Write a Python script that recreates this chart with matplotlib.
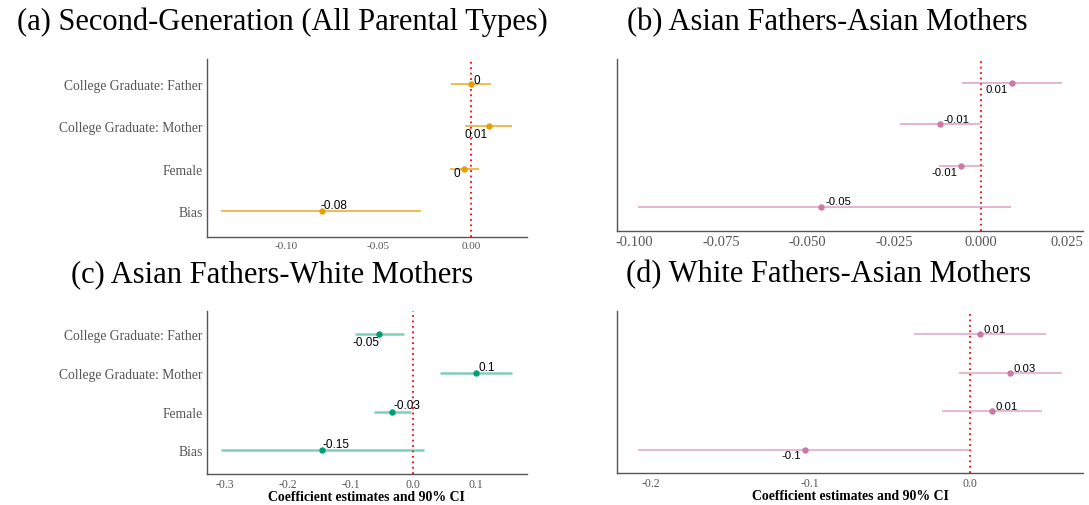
import matplotlib
matplotlib.use("Agg")
import matplotlib.pyplot as plt

plt.rcParams['axes.unicode_minus'] = False

W, H = 1089, 506

# terms from bottom to top of each panel
terms = ["Bias", "Female", "College Graduate: Mother", "College Graduate: Father"]

est_a = [-0.0806, -0.0038, 0.0093, -0.0004]
lo_a = [-0.1348, -0.0116, -0.0032, -0.0111]
hi_a = [-0.0269, 0.0041, 0.0220, 0.0108]

est_b = [-0.046, -0.0056, -0.0118, 0.0089]
lo_b = [-0.0988, -0.0121, -0.0232, -0.0054]
hi_b = [0.0088, 0.0009, -0.0003, 0.0233]

est_c = [-0.146, -0.0334, 0.0997, -0.0536]
lo_c = [-0.306, -0.0626, 0.0424, -0.0928]
hi_c = [0.018, -0.0037, 0.158, -0.0143]

est_d = [-0.1033, 0.0138, 0.0253, 0.0063]
lo_d = [-0.2078, -0.0174, -0.0069, -0.035]
hi_d = [0.0004, 0.045, 0.0575, 0.048]

ticks_a = [-0.10, -0.05, 0.00]
ticks_b = [-0.100, -0.075, -0.050, -0.025, 0.000, 0.025]
ticks_c = [-0.3, -0.2, -0.1, 0.0, 0.1]
ticks_d = [-0.2, -0.1, 0.0]

titles = ["(a) Second-Generation (All Parental Types)",
          "(b) Asian Fathers-Asian Mothers",
          "(c) Asian Fathers-White Mothers",
          "(d) White Fathers-Asian Mothers"]

xlab = "Coefficient estimates and 90% CI"


def fmt_label(v):
    v = round(v, 2) + 0.0
    if v == 0:
        v = 0.0
    return '%g' % v


def px_axes(fig, left, top, right, bottom):
    return fig.add_axes([left / W, 1 - bottom / H, (right - left) / W, (bottom - top) / H])


def coef_panel(ax, est, lo, hi, color, line_alpha, lw, offsets, ticks, tickfmt,
               tick_size, label_size, show_terms, show_xlab):
    y = list(range(1, len(est) + 1))
    ax.hlines(y, lo, hi, color=color, alpha=line_alpha, lw=lw, zorder=2)
    ax.plot(est, y, 'o', color=color, ms=3.6, zorder=3)
    ax.axvline(0, color='red', ls=(0, (1, 2.0)), lw=1.3, zorder=1)
    for v, yy, (dx, dy) in zip(est, y, offsets):
        ax.annotate(fmt_label(v), xy=(v, yy), xytext=(dx, dy), textcoords='offset pixels',
                    ha='center', va='center', fontsize=label_size,
                    family='Liberation Sans', color='black', zorder=4)
    ax.margins(x=0.05)
    ax.set_ylim(0.4, len(est) + 0.6)
    ax.set_xticks(ticks)
    ax.set_xticklabels([tickfmt % t for t in ticks], family='Liberation Serif',
                       fontsize=tick_size, color='#555555')
    if show_terms:
        ax.set_yticks(y)
        ax.set_yticklabels(terms, family='Liberation Serif', fontsize=9.8, color='#555555')
    else:
        ax.set_yticks([])
    ax.tick_params(length=0, pad=3)
    for s in ['top', 'right']:
        ax.spines[s].set_visible(False)
    for s in ['left', 'bottom']:
        ax.spines[s].set_color('#555555')
        ax.spines[s].set_linewidth(1.0)
    if show_xlab:
        ax.set_xlabel(xlab, family='Liberation Serif', fontweight='bold',
                      fontsize=9.9, labelpad=0)


fig = plt.figure(figsize=(W / 100, H / 100), dpi=100)

ax_a = px_axes(fig, 206.7, 59.6, 526.7, 237.7)
ax_b = px_axes(fig, 617.3, 59.7, 1082.7, 232.3)
ax_c = px_axes(fig, 206.7, 311.7, 526.7, 474.7)
ax_d = px_axes(fig, 617.3, 311.7, 1082.7, 474.3)

coef_panel(ax_a, est_a, lo_a, hi_a, '#E69F00', 0.75, 1.3,
           [(12.5, 6.6), (-7, -4), (-12.5, -7.7), (6.5, 3.8)],
           ticks_a, '%.2f', 8, 8.5, True, False)
coef_panel(ax_b, est_b, lo_b, hi_b, '#CC79A7', 0.65, 1.2,
           [(17, 6), (-17, -6.6), (16.7, 5.3), (-15, -5.7)],
           ticks_b, '%.3f', 10.5, 8.2, False, False)
coef_panel(ax_c, est_c, lo_c, hi_c, '#009E73', 0.5, 1.8,
           [(14, 6.6), (14.4, 6.3), (11.5, 5.7), (-13.7, -8)],
           ticks_c, '%.1f', 8.5, 8.5, True, True)
coef_panel(ax_d, est_d, lo_d, hi_d, '#CC79A7', 0.5, 1.5,
           [(-13.6, -5), (14.7, 5), (14.7, 4.4), (15, 5)],
           ticks_d, '%.1f', 8.5, 8.2, False, True)

title_pos = [(282, 22.5), (827.5, 22.5), (271.7, 275), (828.3, 275)]
for t, (x, yy) in zip(titles, title_pos):
    fig.text(x / W, 1 - yy / H, t, ha='center', va='center',
             family='Liberation Serif', fontsize=22, color='black')

fig.savefig('out.png', dpi=100, facecolor='white')
